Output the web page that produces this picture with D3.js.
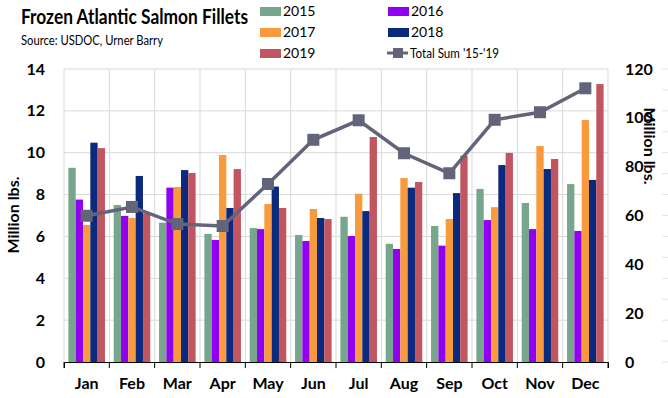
<!DOCTYPE html>
<html>
<head>
<meta charset="utf-8">
<script src="https://cdn.jsdelivr.net/npm/d3@7"></script>
<style>
  body { margin: 0; background: #fff; }
  text { font-family: Lato, "Open Sans", sans-serif; }
</style>
</head>
<body>
<script>
let w = 668;
let h = 398;

// monthly values, million lbs
let months = ["Jan", "Feb", "Mar", "Apr", "May", "Jun", "Jul", "Aug", "Sep", "Oct", "Nov", "Dec"];
let years = ["2015", "2016", "2017", "2018", "2019"];
let s2015 = [9.28, 7.5, 6.66, 6.12, 6.4, 6.07, 6.94, 5.65, 6.5, 8.27, 7.6, 8.5];
let s2016 = [7.76, 6.98, 8.33, 5.83, 6.35, 5.78, 6.02, 5.4, 5.56, 6.78, 6.35, 6.26];
let s2017 = [6.55, 6.88, 8.36, 9.89, 7.55, 7.31, 8.04, 8.79, 6.83, 7.4, 10.32, 11.56];
let s2018 = [10.48, 8.89, 9.17, 7.36, 8.38, 6.88, 7.21, 8.33, 8.07, 9.41, 9.22, 8.7];
let s2019 = [10.22, 7.1, 9.03, 9.22, 7.36, 6.83, 10.75, 8.6, 9.86, 9.99, 9.7, 13.28];
let totalSum = [59.9, 63.5, 56.5, 55.7, 72.9, 91, 99, 85.5, 77.3, 99.2, 102.3, 112.1];
let leftTicks = [0, 2, 4, 6, 8, 10, 12, 14];
let rightTicks = [0, 20, 40, 60, 80, 100, 120];

let colors = ["#78a68c", "#9100f0", "#f99a3d", "#0c2a7d", "#c25660"];
let lineColor = "#636479";

let series = [s2015, s2016, s2017, s2018, s2019];

let plotL = 64, plotR = 608, plotT = 69, plotB = 362;

let svg = d3.select("body")
            .append("svg")
            .attr("width", w)
            .attr("height", h);

let x = d3.scaleBand()
          .domain(months)
          .range([plotL, plotR]);

let xInner = d3.scaleBand()
               .domain(years)
               .range([0, x.bandwidth()])
               .paddingOuter(0.6);

let y = d3.scaleLinear().domain([0, 14]).range([plotB, plotT]);
let y2 = d3.scaleLinear().domain([0, 120]).range([plotB, plotT]);

// gridlines
svg.append("g")
   .selectAll("line")
   .data(leftTicks.slice(1))
   .enter()
   .append("line")
   .attr("x1", plotL).attr("x2", plotR)
   .attr("y1", d => y(d)).attr("y2", d => y(d))
   .attr("stroke", "#d9d9d9");

svg.append("g")
   .selectAll("line")
   .data(months.map(m => x(m)).concat([plotR]))
   .enter()
   .append("line")
   .attr("x1", d => d).attr("x2", d => d)
   .attr("y1", plotT).attr("y2", plotB)
   .attr("stroke", "#d9d9d9");

// faint marks along the right edge
svg.append("g")
   .selectAll("line")
   .data(d3.range(0, 15))
   .enter()
   .append("line")
   .attr("x1", 662).attr("x2", 668)
   .attr("y1", d => y(d)).attr("y2", d => y(d))
   .attr("stroke", "#e4e4e4");

// bars
series.forEach((s, i) => {
	svg.append("g")
	   .selectAll("rect")
	   .data(s)
	   .enter()
	   .append("rect")
	   .attr("x", (d, j) => x(months[j]) + xInner(years[i]))
	   .attr("width", xInner.bandwidth())
	   .attr("y", d => y(d))
	   .attr("height", d => plotB - y(d))
	   .attr("fill", colors[i]);
});

// total sum line
let line = d3.line()
             .x((d, j) => x(months[j]) + x.bandwidth() / 2)
             .y(d => y2(d));

svg.append("path")
   .datum(totalSum)
   .attr("d", line)
   .attr("fill", "none")
   .attr("stroke", lineColor)
   .attr("stroke-width", 3.5);

svg.append("g")
   .selectAll("rect")
   .data(totalSum)
   .enter()
   .append("rect")
   .attr("x", (d, j) => x(months[j]) + x.bandwidth() / 2 - 6)
   .attr("y", d => y2(d) - 6)
   .attr("width", 12)
   .attr("height", 12)
   .attr("fill", lineColor);

// axes
let xAxis = d3.axisBottom(x).tickSize(6).tickSizeOuter(6).tickPadding(10);
let gx = svg.append("g")
            .attr("transform", "translate(0," + plotB + ")")
            .call(xAxis);
gx.select(".domain").attr("stroke", "#000");
gx.selectAll(".tick line")
  .attr("transform", "translate(" + (-x.bandwidth() / 2) + ",0)")
  .attr("stroke", "#000");
gx.append("line")
  .attr("x1", plotR).attr("x2", plotR)
  .attr("y1", 0).attr("y2", 6)
  .attr("stroke", "#000");
gx.selectAll("text")
  .attr("fill", "#000")
  .style("font-size", "16px")
  .style("font-weight", "bold");

let yAxis = d3.axisLeft(y).tickValues(leftTicks).tickSize(0).tickPadding(19);
let gy = svg.append("g")
            .attr("transform", "translate(" + plotL + ",0)")
            .call(yAxis);
gy.select(".domain").remove();
gy.selectAll("text")
  .attr("fill", "#000")
  .style("font-size", "16px")
  .style("font-weight", "bold");

let yAxis2 = d3.axisRight(y2).tickValues(rightTicks).tickSize(0).tickPadding(17);
let gy2 = svg.append("g")
             .attr("transform", "translate(" + plotR + ",0)")
             .call(yAxis2);
gy2.select(".domain").remove();
gy2.selectAll("text")
   .attr("fill", "#000")
   .style("font-size", "16px")
   .style("font-weight", "bold");

// axis titles
svg.append("text")
   .attr("transform", "translate(19,215) rotate(-90)")
   .attr("text-anchor", "middle")
   .style("font-size", "16px")
   .style("font-weight", "bold")
   .text("Million lbs.");

svg.append("text")
   .attr("transform", "translate(644,146) rotate(90)")
   .attr("text-anchor", "middle")
   .style("font-size", "16px")
   .style("font-weight", "bold")
   .text("Million lbs.");

// title
svg.append("text")
   .attr("x", 21).attr("y", 24)
   .attr("textLength", 227)
   .attr("lengthAdjust", "spacingAndGlyphs")
   .style("font-size", "20px")
   .style("font-weight", "bold")
   .text("Frozen Atlantic Salmon Fillets");

svg.append("text")
   .attr("x", 21).attr("y", 45)
   .attr("textLength", 142)
   .attr("lengthAdjust", "spacingAndGlyphs")
   .style("font-size", "13px")
   .text("Source: USDOC, Urner Barry");

// legend
let legendPos = [[260, 11], [388, 11], [260, 32], [388, 32], [260, 53]];
years.forEach((yr, i) => {
	let g = svg.append("g")
	           .attr("transform", "translate(" + legendPos[i][0] + "," + legendPos[i][1] + ")");
	g.append("rect")
	 .attr("x", 0).attr("y", -4)
	 .attr("width", 21).attr("height", 9)
	 .attr("fill", colors[i]);
	g.append("text")
	 .attr("x", 23).attr("y", 5)
	 .style("font-size", "14px")
	 .text(yr);
});

let lg = svg.append("g").attr("transform", "translate(387,53)");
lg.append("line")
  .attr("x1", 0).attr("x2", 21)
  .attr("stroke", lineColor)
  .attr("stroke-width", 3);
lg.append("rect")
  .attr("x", 6).attr("y", -5)
  .attr("width", 10).attr("height", 10)
  .attr("fill", lineColor);
lg.append("text")
  .attr("x", 23).attr("y", 5)
  .attr("textLength", 89)
  .attr("lengthAdjust", "spacingAndGlyphs")
  .style("font-size", "14px")
  .text("Total Sum '15-'19");
</script>
</body>
</html>
